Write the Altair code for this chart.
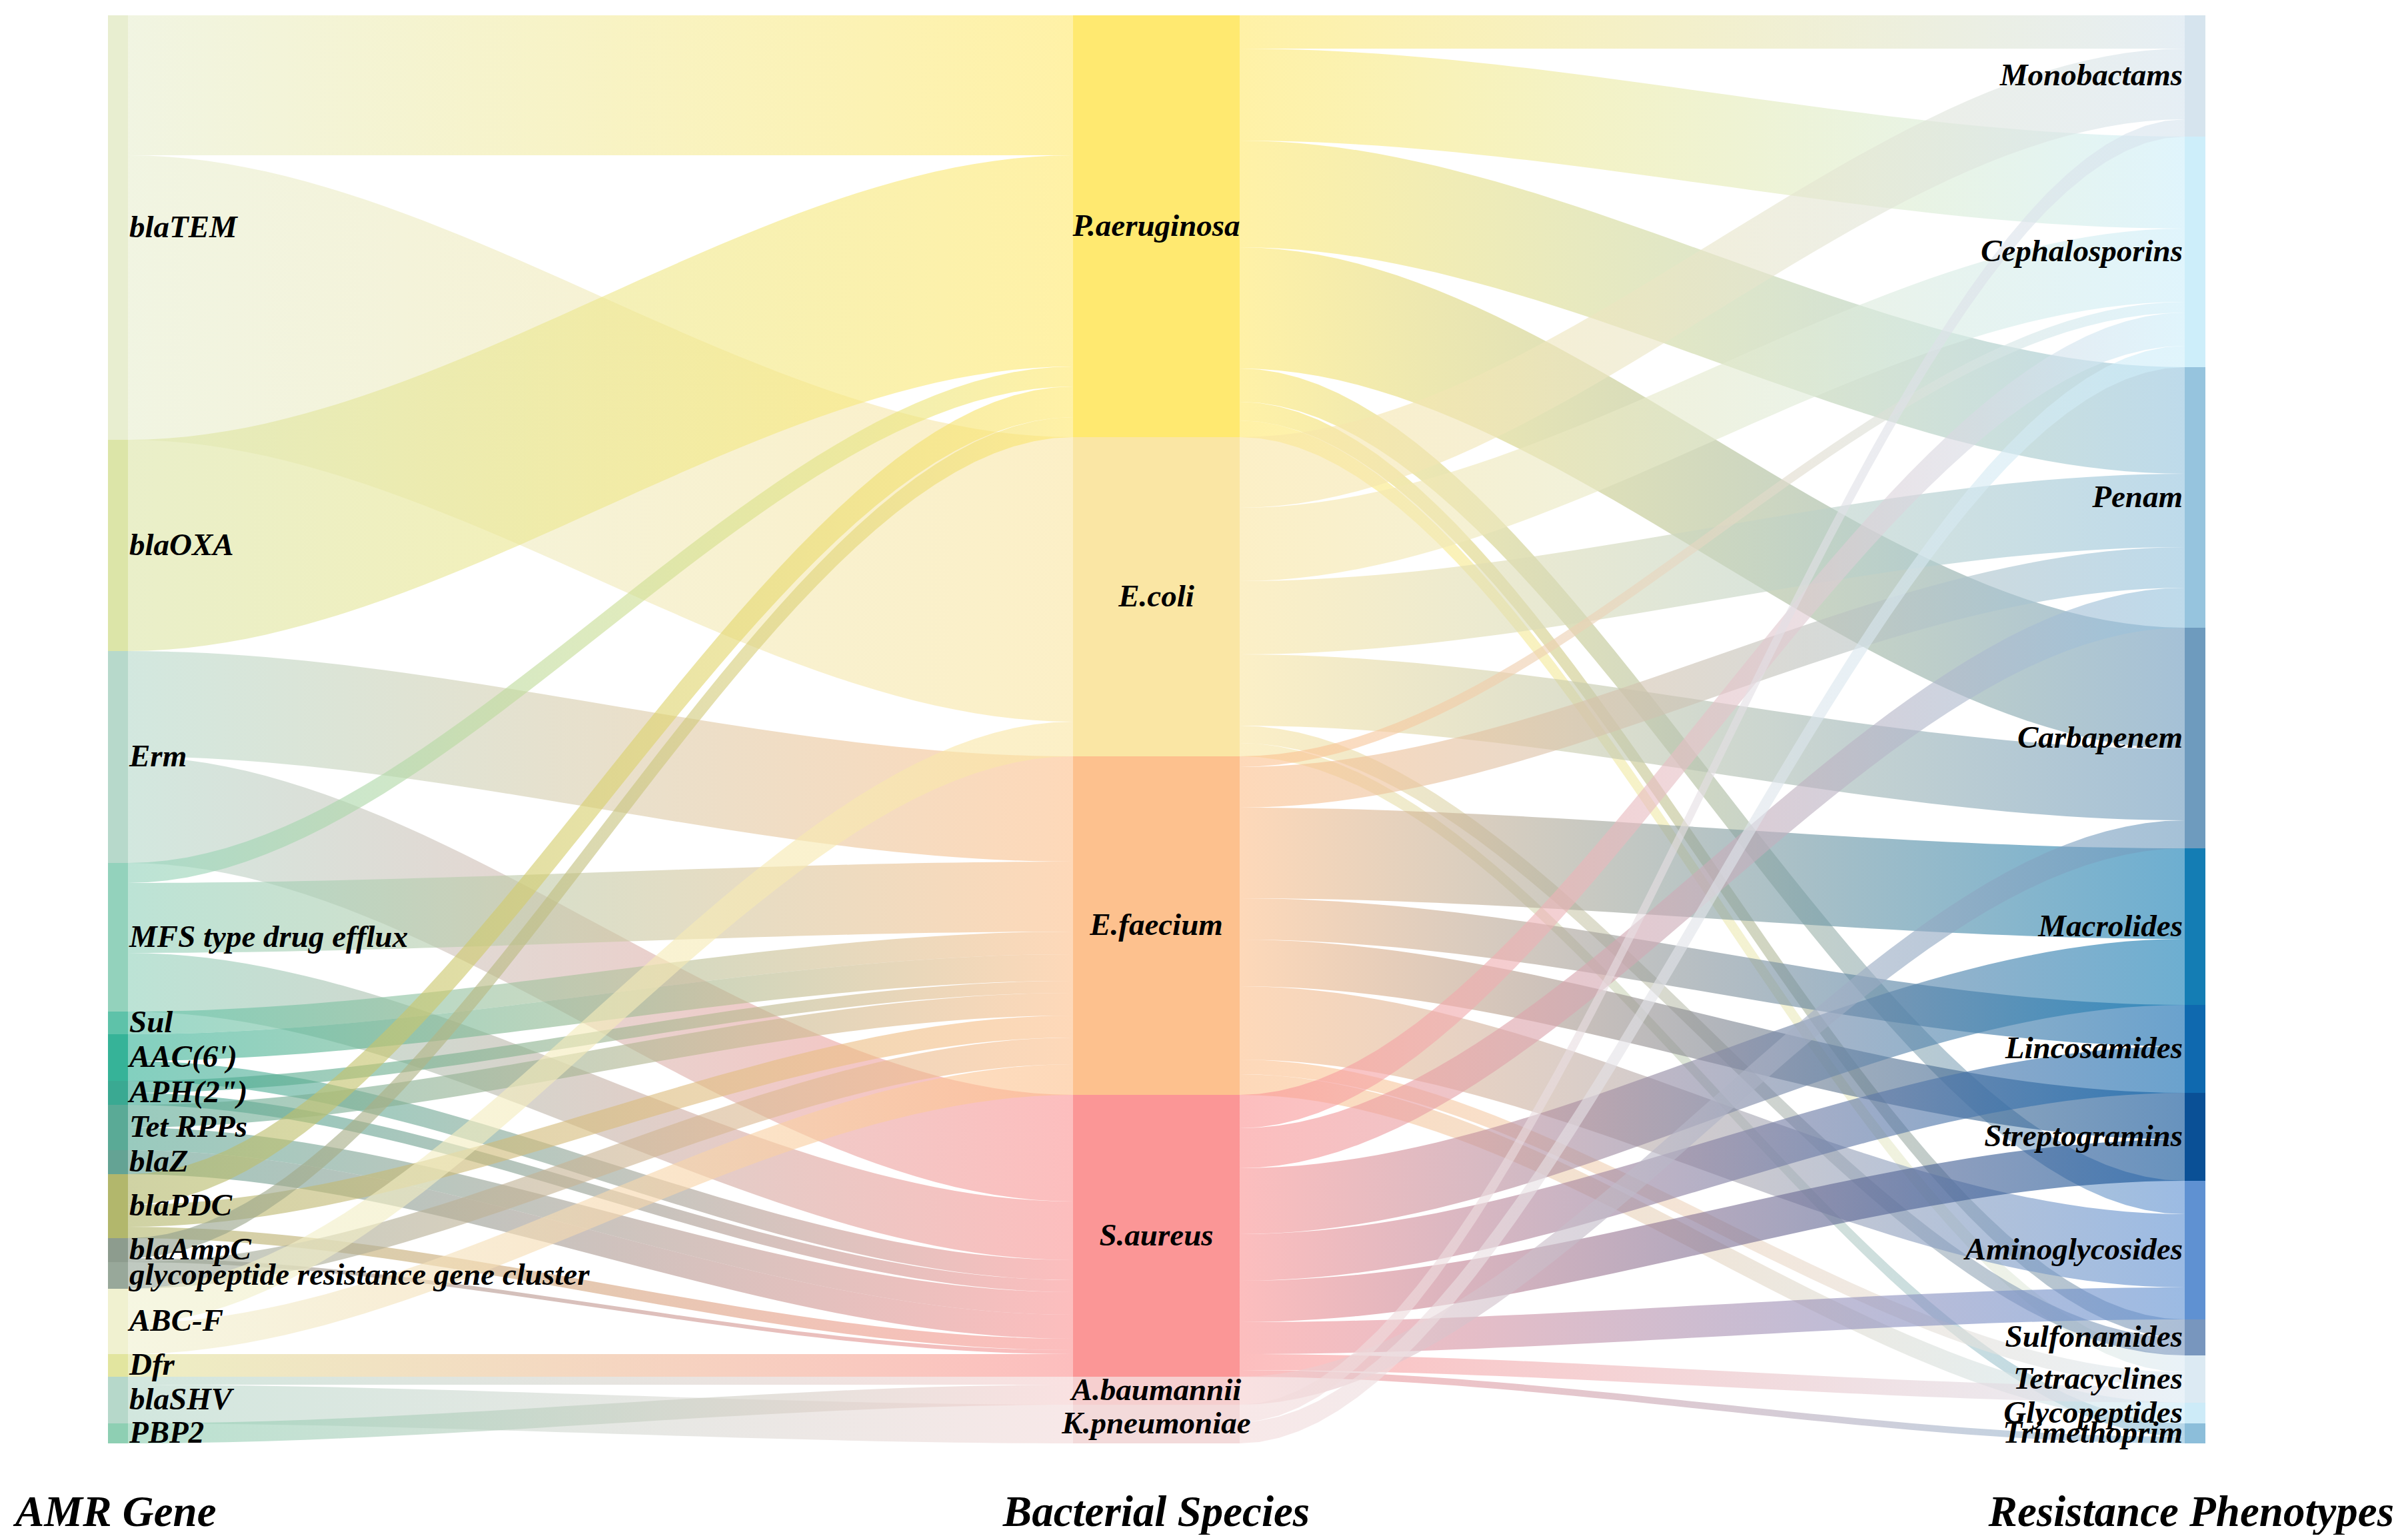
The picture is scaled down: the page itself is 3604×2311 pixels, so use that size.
import altair as alt
import pandas as pd
import numpy as np

# ---------------- data (arbitrary units) ----------------
genes = ["blaTEM", "blaOXA", "Erm", "MFS type drug efflux", "Sul", "AAC(6')",
         'APH(2")', "Tet RPPs", "blaZ", "blaPDC", "blaAmpC",
         "glycopeptide resistance gene cluster", "ABC-F", "Dfr", "blaSHV", "PBP2"]
species = ["P.aeruginosa", "E.coli", "E.faecium", "S.aureus", "A.baumannii", "K.pneumoniae"]
phenotypes = ["Monobactams", "Cephalosporins", "Penam", "Carbapenem", "Macrolides",
              "Lincosamides", "Streptogramins", "Aminoglycosides", "Sulfonamides",
              "Tetracyclines", "Glycopeptides", "Trimethoprim"]

gene_src = ["blaTEM", "blaTEM", "blaOXA", "Erm", "Erm",
            "MFS type drug efflux", "MFS type drug efflux", "MFS type drug efflux",
            "Sul", "AAC(6')", "AAC(6')", 'APH(2")', 'APH(2")', "Tet RPPs", "Tet RPPs",
            "blaZ", "blaPDC", "blaPDC", "blaPDC", "blaAmpC", "blaAmpC",
            "glycopeptide resistance gene cluster",
            "ABC-F", "ABC-F", "Dfr", "blaSHV", "blaSHV", "PBP2"]
gene_tgt = ["P.aeruginosa", "E.coli", "P.aeruginosa", "E.faecium", "S.aureus",
            "P.aeruginosa", "E.faecium", "S.aureus",
            "E.faecium", "E.faecium", "S.aureus", "E.faecium", "S.aureus", "E.faecium", "S.aureus",
            "S.aureus", "P.aeruginosa", "E.faecium", "S.aureus", "P.aeruginosa", "S.aureus",
            "E.faecium",
            "E.coli", "E.faecium", "S.aureus", "A.baumannii", "K.pneumoniae", "A.baumannii"]
gene_val = [210, 427, 317, 158, 160,
            30, 105, 88,
            34, 40, 30, 18, 18, 34, 34,
            36, 46, 33, 17, 30, 6,
            40,
            52, 46, 34, 12, 58, 30]

sp_src = ["P.aeruginosa"] * 7 + ["E.coli"] * 6 + ["E.faecium"] * 8 + ["S.aureus"] * 8 + \
         ["A.baumannii"] + ["K.pneumoniae"] * 2
sp_tgt = ["Monobactams", "Cephalosporins", "Penam", "Carbapenem", "Aminoglycosides", "Sulfonamides", "Tetracyclines",
          "Monobactams", "Cephalosporins", "Penam", "Carbapenem", "Sulfonamides", "Trimethoprim",
          "Cephalosporins", "Penam", "Macrolides", "Lincosamides", "Streptogramins", "Aminoglycosides", "Tetracyclines", "Glycopeptides",
          "Cephalosporins", "Penam", "Macrolides", "Lincosamides", "Streptogramins", "Aminoglycosides", "Tetracyclines", "Trimethoprim",
          "Carbapenem",
          "Monobactams", "Cephalosporins"]
sp_val = [50, 138, 160, 182, 50, 28, 25,
          106, 110, 110, 107, 26, 20,
          16, 61, 136, 62, 70, 110, 22, 31,
          50, 60, 99, 70, 62, 48, 24, 10,
          42,
          26, 32]

gene_colors = ["#E8EED0", "#DCE5A8", "#B7D9CB", "#93D2BC", "#5EC2A9", "#36B398", "#3AA992",
               "#5AAA96", "#64A394", "#B2B76C", "#8D9C8E", "#98A89A", "#F0F1D0", "#E2E59F",
               "#B6D8CA", "#8ECFB3"]
species_colors = ["#FFE970", "#FAE6A4", "#FDC18E", "#FB9696", "#F6CFCF", "#F3DADA"]
phen_colors = ["#D6E4EE", "#CDEEFA", "#96C4DE", "#6E9BBE", "#147DB4", "#0F69AF", "#0A5096",
               "#5F91D2", "#7896BE", "#DCEAF3", "#CDEBF8", "#8CBEDA"]

axis_titles = ["AMR Gene", "Bacterial Species", "Resistance Phenotypes"]

# ---------------- layout ----------------
W, H = 3588, 2295
TOP_PX, SPAN_PX = 15, 2143
COL_X = [(154, 184), (1602, 1852), (3270, 3301)]
FONT = "Liberation Serif"

cols = [genes, species, phenotypes]
colors = [gene_colors, species_colors, phen_colors]
linksets = [(gene_src, gene_tgt, gene_val, 0), (sp_src, sp_tgt, sp_val, 1)]

tot = {}
for n in genes:
    tot[(0, n)] = sum(v for s, v in zip(gene_src, gene_val) if s == n)
for n in species:
    tin = sum(v for t, v in zip(gene_tgt, gene_val) if t == n)
    tout = sum(v for s, v in zip(sp_src, sp_val) if s == n)
    tot[(1, n)] = max(tin, tout)
for n in phenotypes:
    tot[(2, n)] = sum(v for t, v in zip(sp_tgt, sp_val) if t == n)

node_y0 = {}
node_rows = []
col_totals = []
for c, order in enumerate(cols):
    acc = 0
    for j, n in enumerate(order):
        node_y0[(c, n)] = acc
        node_rows.append(dict(col=c, name=n, x0=COL_X[c][0], x1=COL_X[c][1],
                              xmid=(COL_X[c][0] + COL_X[c][1]) / 2,
                              y0=acc, y1=acc + tot[(c, n)], ymid=acc + tot[(c, n)] / 2,
                              color=colors[c][j]))
        acc += tot[(c, n)]
    col_totals.append(acc)
nodes_df = pd.DataFrame(node_rows)

TOTAL = max(col_totals)
k = SPAN_PX / TOTAL
ydom = [-TOP_PX / k, (H - TOP_PX) / k]

link_rows = []
link_meta = []
lid = 0
u = np.linspace(0, 1, 49)
f = 3 * u ** 2 - 2 * u ** 3
for src, tgt, val, c in linksets:
    idx = list(range(len(val)))
    sorder = sorted(idx, key=lambda i: (cols[c].index(src[i]), cols[c + 1].index(tgt[i]), i))
    sy, off = {}, {}
    for i in sorder:
        o = off.get(src[i], node_y0[(c, src[i])])
        sy[i] = o
        off[src[i]] = o + val[i]
    torder = sorted(idx, key=lambda i: (cols[c + 1].index(tgt[i]), cols[c].index(src[i]), i))
    ty, off = {}, {}
    for i in torder:
        o = off.get(tgt[i], node_y0[(c + 1, tgt[i])])
        ty[i] = o
        off[tgt[i]] = o + val[i]
    xa, xb = COL_X[c][1], COL_X[c + 1][0]
    for i in idx:
        ytop = sy[i] + (ty[i] - sy[i]) * f
        for uu, yy in zip(u, ytop):
            link_rows.append(dict(lid=lid, x=float(xa + (xb - xa) * uu),
                                  ytop=float(yy), ybot=float(yy + val[i])))
        link_meta.append((lid, colors[c][cols[c].index(src[i])],
                          colors[c + 1][cols[c + 1].index(tgt[i])]))
        lid += 1
links_df = pd.DataFrame(link_rows)

# ---------------- chart ----------------
xs = alt.Scale(domain=[0, W], nice=False, zero=False)
ys = alt.Scale(domain=ydom, nice=False, zero=False, reverse=True)

layers = []
base = alt.Chart(links_df)
for lid, c0, c1 in link_meta:
    grad = alt.LinearGradient(gradient="linear",
                              stops=[alt.GradientStop(color=c0, offset=0),
                                     alt.GradientStop(color=c1, offset=1)],
                              x1=0, x2=1, y1=0, y2=0)
    layers.append(
        base.transform_filter(alt.datum.lid == lid)
        .mark_area(color=grad, opacity=0.62)
        .encode(x=alt.X("x:Q", scale=xs, axis=None),
                y=alt.Y("ytop:Q", scale=ys, axis=None),
                y2="ybot:Q")
    )

nbase = alt.Chart(nodes_df)
nodes = nbase.mark_rect().encode(
    x=alt.X("x0:Q", scale=xs, axis=None), x2="x1:Q",
    y=alt.Y("y0:Q", scale=ys, axis=None), y2="y1:Q",
    color=alt.Color("color:N", scale=None))

txt = dict(font=FONT, fontStyle="italic", fontWeight="bold", fontSize=47,
           baseline="middle", color="black")
lab_gene = nbase.transform_filter(alt.datum.col == 0).mark_text(align="left", dx=2, **txt).encode(
    x=alt.X("x1:Q", scale=xs, axis=None), y=alt.Y("ymid:Q", scale=ys, axis=None), text="name:N")
lab_sp = nbase.transform_filter(alt.datum.col == 1).mark_text(align="center", **txt).encode(
    x=alt.X("xmid:Q", scale=xs, axis=None), y=alt.Y("ymid:Q", scale=ys, axis=None), text="name:N")
lab_ph = nbase.transform_filter(alt.datum.col == 2).mark_text(align="right", dx=-3, **txt).encode(
    x=alt.X("x0:Q", scale=xs, axis=None), y=alt.Y("ymid:Q", scale=ys, axis=None), text="name:N")

ttl = dict(font=FONT, fontStyle="italic", fontWeight="bold", fontSize=65,
           baseline="middle", color="black")
tdf = pd.DataFrame({"t": axis_titles})
t1 = alt.Chart(tdf).transform_filter(alt.datum.t == axis_titles[0]).mark_text(align="left", **ttl).encode(
    x=alt.value(15), y=alt.value(2262), text="t:N")
t2 = alt.Chart(tdf).transform_filter(alt.datum.t == axis_titles[1]).mark_text(align="center", **ttl).encode(
    x=alt.value(1727), y=alt.value(2262), text="t:N")
t3 = alt.Chart(tdf).transform_filter(alt.datum.t == axis_titles[2]).mark_text(align="right", **ttl).encode(
    x=alt.value(3584), y=alt.value(2262), text="t:N")

chart = alt.layer(*layers, nodes, lab_gene, lab_sp, lab_ph, t1, t2, t3).properties(
    width=W, height=H, padding=0, autosize="none"
).configure_view(strokeWidth=0)

chart.save("out.html", embed_options={"renderer": "svg", "actions": False})
